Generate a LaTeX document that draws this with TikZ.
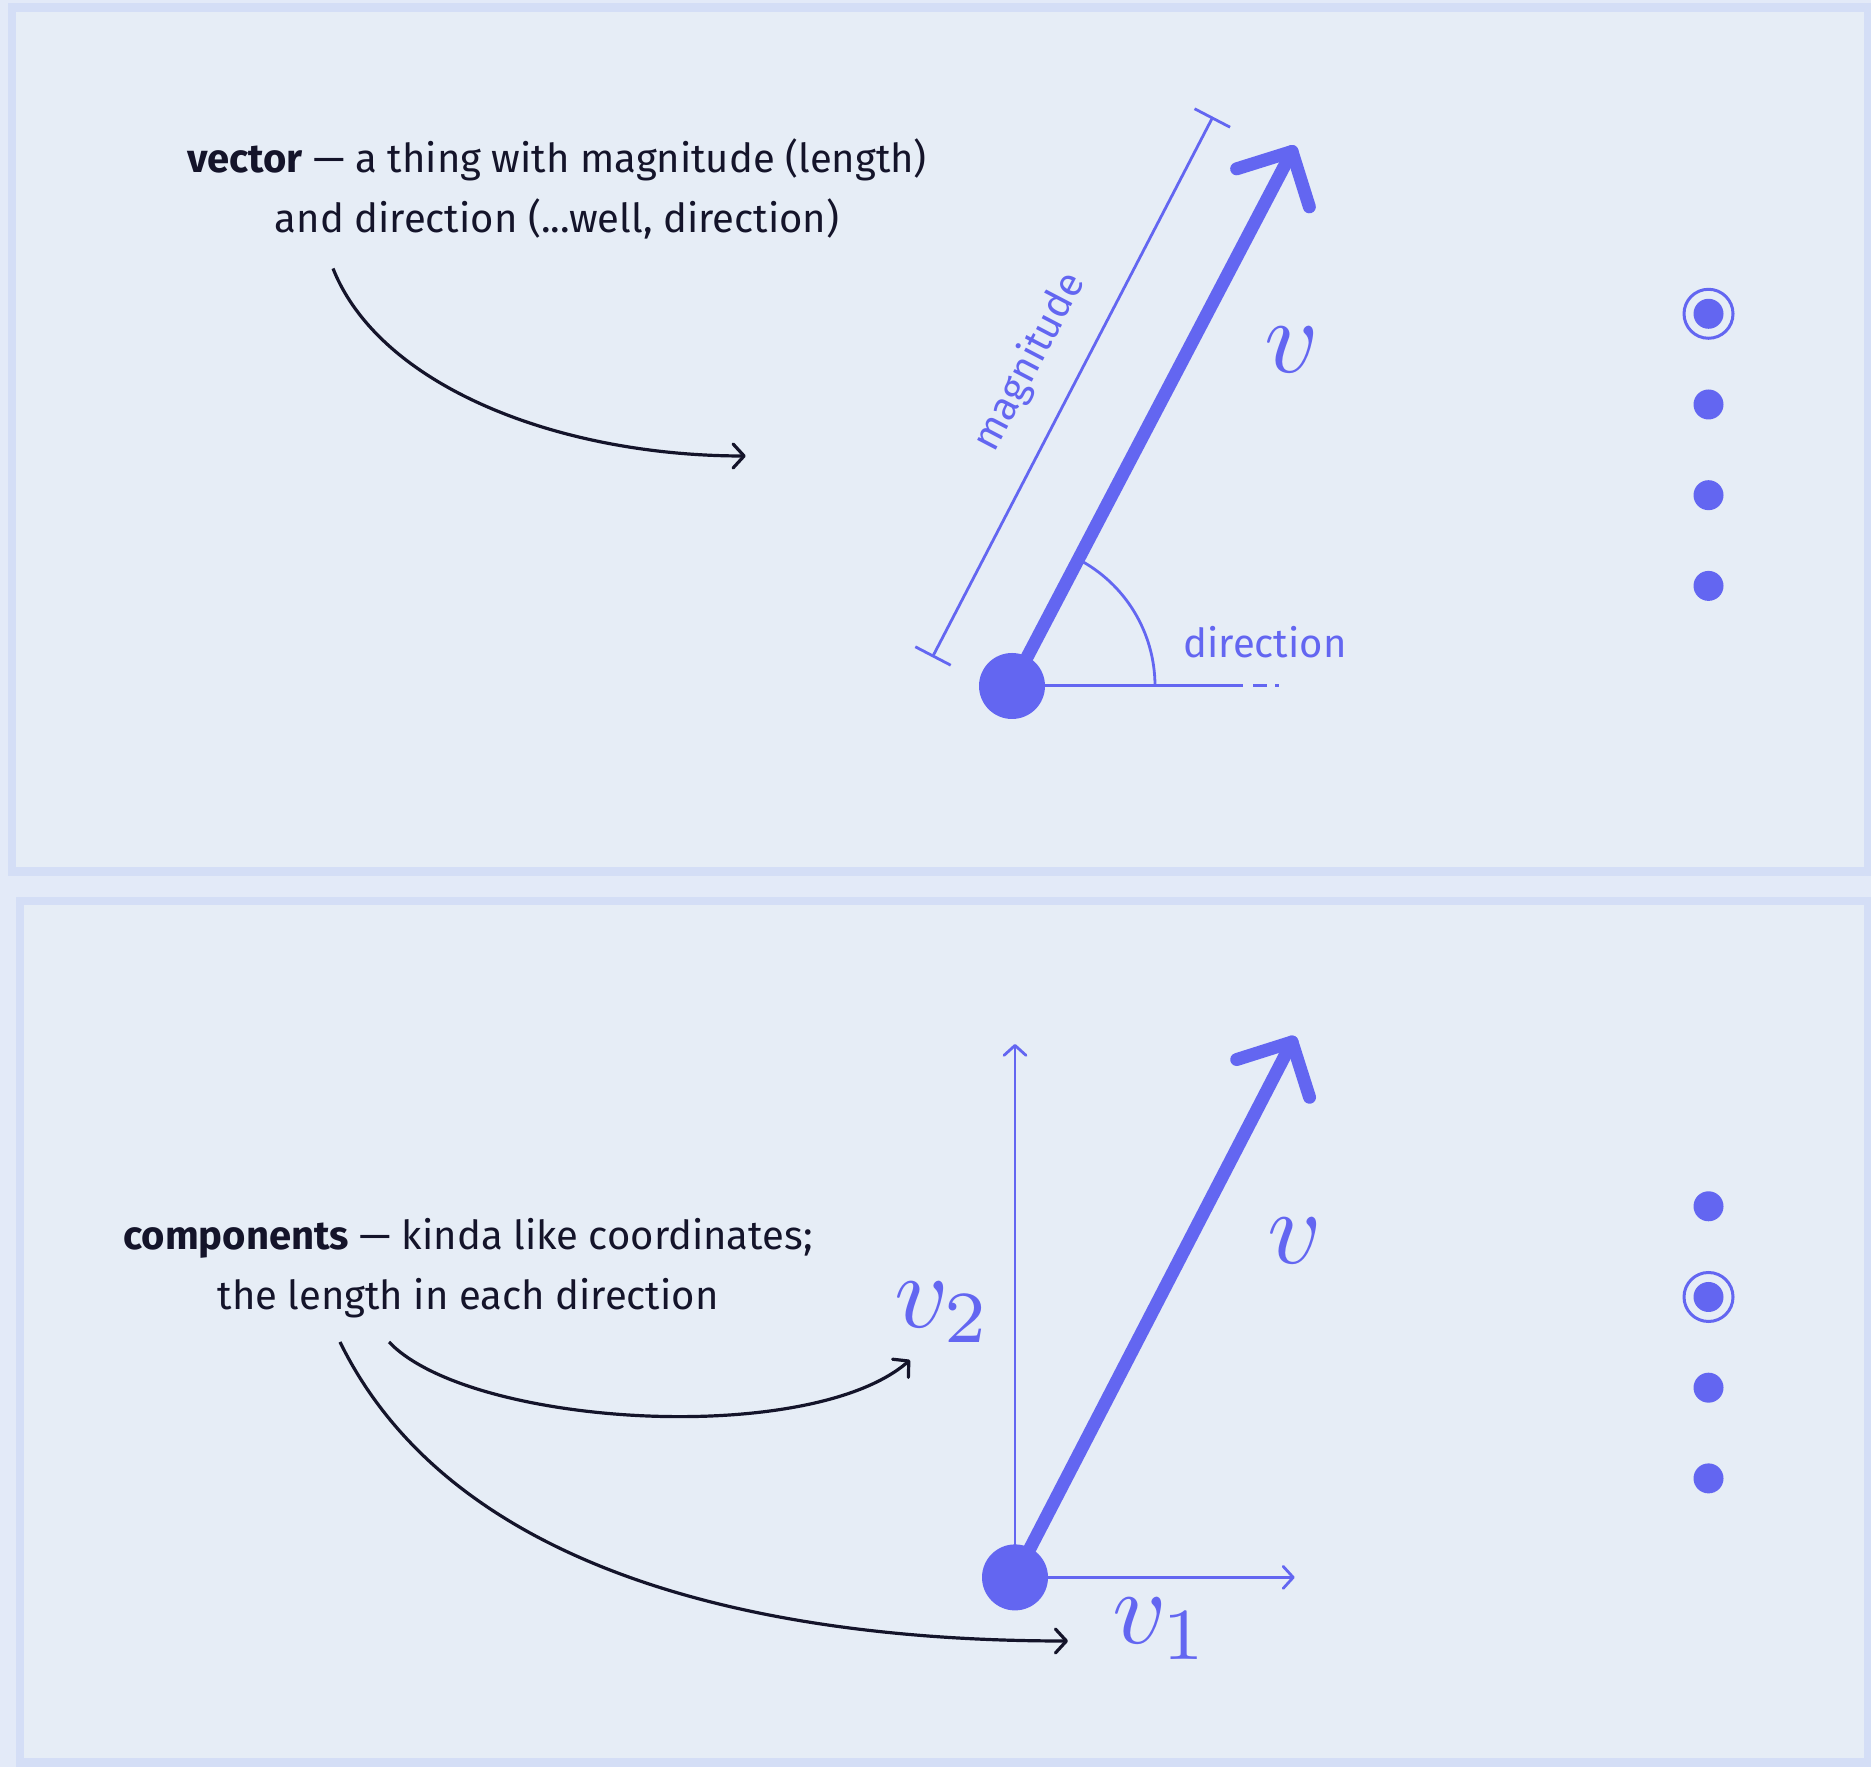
\documentclass[tikz,border=0pt]{standalone}
\usepackage{fontspec}
\setmainfont{Fira Sans}
\usetikzlibrary{arrows.meta,calc}
\definecolor{pagebg}{HTML}{E3EAF8}
\definecolor{frame}{HTML}{D4DEF6}
\definecolor{panel}{HTML}{E6EDF6}
\definecolor{indigo}{HTML}{6366F1}
\definecolor{ink}{HTML}{14142A}
\begin{document}
\begin{tikzpicture}[x=1pt,y=1pt,
  panelbox/.style={draw=frame,fill=panel,line width=8.5pt},
  vecline/.style={draw=indigo,line width=13pt,line cap=round,line join=round},
  fineline/.style={draw=indigo,line width=2.8pt},
  pointer/.style={draw=ink,line width=3.2pt,-{Straight Barb[length=11pt,width=24pt,round]}},
  axisarrow/.style={fineline,-{Straight Barb[length=10pt,width=22pt,round]}},
  maintext/.style={text=ink,align=center,font=\fontsize{40}{60}\selectfont},
  bluetext/.style={text=indigo,font=\fontsize{40}{44}\selectfont},
  mathlbl/.style={text=indigo,font=\fontsize{10}{10}\selectfont,scale=10.5,inner sep=0pt},
  origin/.style={circle,fill=indigo,inner sep=0pt,minimum size=66pt},
  navdot/.style={circle,fill=indigo,inner sep=0pt,minimum size=30pt},
  navring/.style={circle,draw=indigo,line width=3pt,inner sep=0pt,minimum size=49pt},
]
\fill[pagebg] (0,0) rectangle (1871,1767);
\useasboundingbox (0,0) rectangle (1871,1767);
\draw[panelbox] (12,1759.5) rectangle (1868,895.5);
\draw[panelbox] (20,866) rectangle (1868,4.5);

% ---------- top panel ----------
\coordinate (o1) at (1012,1081);
\coordinate (t1) at (1292,1615.5);
\coordinate (m1) at (933,1111);
\coordinate (m2) at (1212.3,1649);
\coordinate (d1) at (1279,1081);
\draw[fineline] (m1) -- (m2);
\draw[fineline] ($(m1)+(152.5:20)$) -- ($(m1)+(-27.5:20)$);
\draw[fineline] ($(m2)+(152.5:20)$) -- ($(m2)+(-27.5:20)$);
\draw[fineline,line width=3pt,dash pattern=on 231pt off 10pt on 14pt off 8pt on 4pt] (o1) -- (d1);
\draw[fineline] ($(o1)+(143,0)$) arc[start angle=0,end angle=62.4,radius=143];
\draw[vecline] (o1) -- (t1);
\draw[vecline] ($(t1)+(197.4:58)$) -- (t1) -- ($(t1)+(287.4:58)$);
\node[origin] (dot1) at (o1) {};

\node[maintext] (def1) at (557,1578) {\textbf{vector} — a thing with magnitude (length)\\and direction (...well, direction)};
\node[bluetext,rotate=62.4] (mag) at (1030,1405) {magnitude};
\node[bluetext] (dir) at (1265,1125) {direction};
\node[mathlbl] (vtop) at (1292,1417) {$v$};
\coordinate (p1s) at (333,1498.5);
\coordinate (p1e) at (745.7,1311);
\draw[pointer] (p1s) .. controls (380,1380) and (560,1311) .. (p1e);

\node[navring] (r1) at (1708.5,1453.2) {};
\node[navdot] (r1c) at (r1) {};
\node[navdot] (n12) at (1708.5,1362.5) {};
\node[navdot] (n13) at (1708.5,1271.8) {};
\node[navdot] (n14) at (1708.5,1181.1) {};

% ---------- bottom panel ----------
\coordinate (o2) at (1015,189.6);
\coordinate (t2) at (1292,725);
\coordinate (ay) at (1015,723);
\coordinate (ax) at (1294.6,189.6);
\draw[axisarrow] (o2) -- (ay);
\draw[axisarrow] (o2) -- (ax);
\draw[vecline] (o2) -- (t2);
\draw[vecline] ($(t2)+(197.6:58)$) -- (t2) -- ($(t2)+(287.6:58)$);
\node[origin] (dot2) at (o2) {};

\node[maintext] (def2) at (468,499) {\textbf{components} — kinda like coordinates;\\the length in each direction};
\node[mathlbl] (vbot) at (1294.6,526) {$v$};
\node[mathlbl] (vtwo) at (943,454.5) {$v_2$};
\node[mathlbl] (vone) at (1161,138) {$v_1$};
\coordinate (p2s) at (389,425);
\coordinate (p2e) at (910,407);
\coordinate (p3s) at (340,425);
\coordinate (p3e) at (1068,126);
\draw[pointer] (p2s) .. controls (470,340) and (810,320) .. (p2e);
\draw[pointer] (p3s) .. controls (450,200) and (750,126) .. (p3e);

\node[navdot] (n21) at (1708.5,560.7) {};
\node[navring] (r2) at (1708.5,470) {};
\node[navdot] (r2c) at (r2) {};
\node[navdot] (n23) at (1708.5,379.3) {};
\node[navdot] (n24) at (1708.5,288.6) {};
\end{tikzpicture}
\end{document}
